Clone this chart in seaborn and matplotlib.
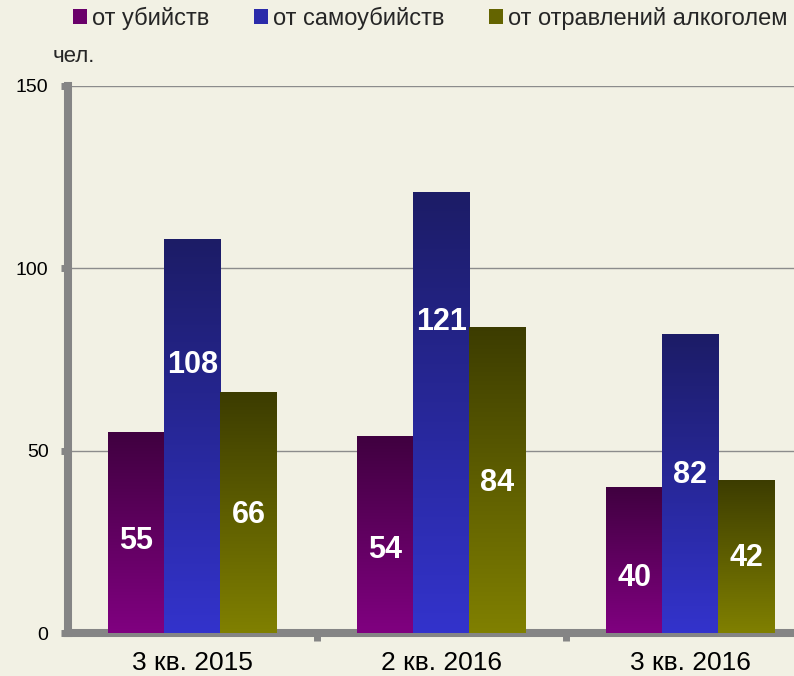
import numpy as np
import pandas as pd
import seaborn as sns
import matplotlib.pyplot as plt
from matplotlib.colors import to_rgb
from matplotlib.patches import Patch

periods = ["3 кв. 2015", "2 кв. 2016", "3 кв. 2016"]
series = ["от убийств", "от самоубийств", "от отравлений алкоголем"]
murders = [55, 54, 40]
suicides = [108, 121, 82]
alcohol = [66, 84, 42]

BG = "#F2F1E4"
AXIS = "#858585"
TOP = ["#400040", "#1C1C66", "#3C3C00"]
BOTTOM = ["#800080", "#3333CC", "#808000"]
LEGEND = ["#6A006A", "#2B2BAA", "#646400"]
# where the value label sits, as a fraction of bar height (per series, per period)
LABEL_FRAC = [[0.46, 0.42, 0.38], [0.68, 0.705, 0.53], [0.49, 0.49, 0.49]]

df = pd.DataFrame({
    "period": periods * 3,
    "series": [s for s in series for _ in periods],
    "value": murders + suicides + alcohol,
})

sns.set_theme(style="white")
plt.rcParams["font.family"] = ["Liberation Sans", "DejaVu Sans"]

fig = plt.figure(figsize=(7.94, 6.76), dpi=100, facecolor=BG)
ax = fig.add_axes([68 / 794, 43 / 676, 726 / 794, 547 / 676])
ax.set_facecolor(BG)

sns.barplot(data=df, x="period", y="value", hue="series", hue_order=series,
            palette=BOTTOM, width=0.675, saturation=1, legend=False,
            linewidth=0, ax=ax, zorder=3)

# vertical gradient inside each bar: dark at the top, bright at the base
grad = np.linspace(0, 1, 256)[:, None, None]
for i, cont in enumerate(ax.containers):
    top = np.array(to_rgb(TOP[i]))
    bot = np.array(to_rgb(BOTTOM[i]))
    img = top + (bot - top) * grad
    for j, bar in enumerate(cont):
        x0, w, h = bar.get_x(), bar.get_width(), bar.get_height()
        im = ax.imshow(img, extent=[x0, x0 + w, 0, h], origin="upper",
                       aspect="auto", zorder=4)
        im.set_clip_path(bar)
        ax.text(x0 + w / 2, h * LABEL_FRAC[i][j], f"{h:.0f}", ha="center",
                va="center", color="white", fontsize=22, fontweight="bold",
                zorder=5)

ax.set_xlim(-0.5, 2.416)
ax.set_ylim(0, 150)
ax.set_yticks([0, 50, 100, 150])
ax.set_xticks([0.5, 1.5], minor=True)
ax.set_xlabel("")
ax.set_ylabel("")

ax.set_axisbelow(True)
ax.grid(axis="y", color="#8C8C8C", linewidth=1)
ax.grid(axis="x", visible=False)

for side in ["top", "right"]:
    ax.spines[side].set_visible(False)
for side in ["left", "bottom"]:
    ax.spines[side].set_color(AXIS)
    ax.spines[side].set_linewidth(5.8)

ax.tick_params(axis="y", left=True, length=5, width=5, color=AXIS, pad=9,
               labelsize=14, labelcolor="black")
ax.tick_params(axis="x", which="major", bottom=True, length=0, pad=13,
               labelsize=19, labelcolor="black")
ax.tick_params(axis="x", which="minor", bottom=True, length=6, width=5,
               color=AXIS)

fig.text(53 / 794, 1 - 57 / 676, "чел.", fontsize=16, ha="left", va="center")

handles = [Patch(facecolor=c, edgecolor="none") for c in LEGEND]
fig.legend(handles, series, loc="center", bbox_to_anchor=(0.5416, 1 - 18 / 676),
           ncol=3, frameon=False, fontsize=17, handlelength=0.6,
           handleheight=0.6, handletextpad=0.2, columnspacing=1.9, borderpad=0)

fig.savefig("out.png", dpi=100, facecolor=BG)
